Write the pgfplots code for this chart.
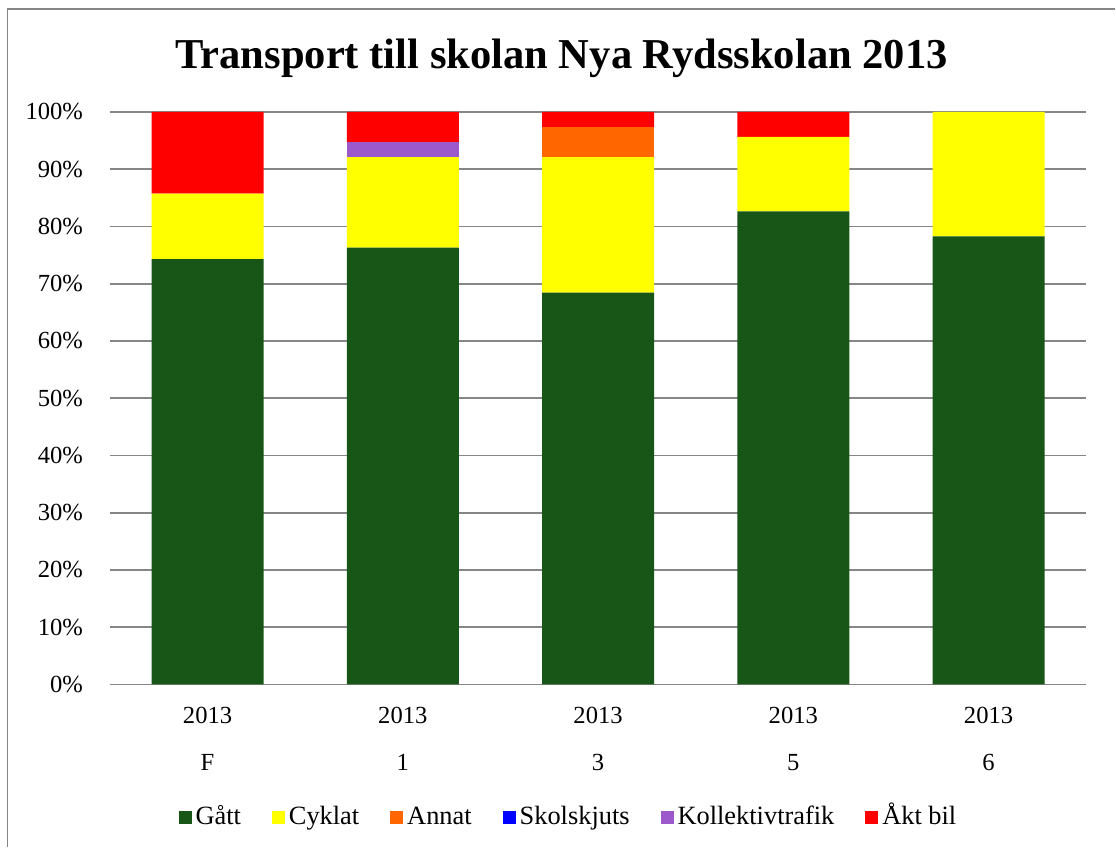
\documentclass[border=0pt]{standalone}
\usepackage{pgfplots}
\pgfplotsset{compat=1.18}
\usepackage{fontspec}
\setmainfont{Liberation Serif}
\definecolor{cGatt}{RGB}{24,86,24}
\definecolor{cCyklat}{RGB}{255,255,0}
\definecolor{cAnnat}{RGB}{255,102,0}
\definecolor{cSkol}{RGB}{0,0,255}
\definecolor{cKoll}{RGB}{155,89,203}
\definecolor{cBil}{RGB}{255,0,0}
\definecolor{cGrid}{RGB}{134,134,134}
\pgfplotsset{sq/.style={draw=none,fill=#1,
  legend image code/.code={\fill[#1] (0pt,-3.25pt) rectangle (6.5pt,3.25pt);}}}
\begin{document}
\begin{tikzpicture}
\begin{axis}[
  scale only axis, width=488.5pt, height=286.5pt,
  ybar stacked, bar width=56pt,
  xmin=-0.5, xmax=4.5, ymin=0, ymax=100,
  clip=false,
  ytick={0,10,...,100},
  yticklabel={\pgfmathprintnumber{\tick}\%},
  /pgf/number format/assume math mode=true,
  yticklabel style={font=\fontsize{12.3}{14}\selectfont, xshift=-10pt},
  ymajorgrids, grid style={draw=cGrid, line width=0.85pt},
  axis lines*=left,
  y axis line style={draw=none},
  x axis line style={draw=cGrid, line width=0.85pt},
  ytick style={draw=none},
  xtick={0,...,4},
  xticklabels={{2013\\F},{2013\\1},{2013\\3},{2013\\5},{2013\\6}},
  xticklabel style={align=center, font=\fontsize{12.3}{23.5}\selectfont, yshift=-8pt},
  xtick style={draw=none},
  extra x ticks={-0.5,0.5,1.5,2.5,3.5,4.5},
  extra x tick labels={},
  extra x tick style={major tick length=47.5pt, tick align=outside,
    tick style={draw=cGrid, line width=0.85pt}, grid=none},
  legend columns=-1,
  legend style={at={(axis description cs:0.4707,-0.2321)}, anchor=center,
    draw=none, font=\fontsize{13.2}{15}\selectfont,
    nodes={text height=9.6pt, text depth=2.8pt},
    /tikz/every even column/.append style={column sep=13.5pt}},
]
\addplot+[sq=cGatt] coordinates {(0,74.29) (1,76.32) (2,68.42) (3,82.61) (4,78.26)};
\addplot+[sq=cCyklat] coordinates {(0,11.43) (1,15.79) (2,23.68) (3,13.04) (4,21.74)};
\addplot+[sq=cAnnat] coordinates {(0,0) (1,0) (2,5.26) (3,0) (4,0)};
\addplot+[sq=cSkol] coordinates {(0,0) (1,0) (2,0) (3,0) (4,0)};
\addplot+[sq=cKoll] coordinates {(0,0) (1,2.63) (2,0) (3,0) (4,0)};
\addplot+[sq=cBil] coordinates {(0,14.29) (1,5.26) (2,2.63) (3,4.35) (4,0)};
\legend{Gått,Cyklat,Annat,Skolskjuts,Kollektivtrafik,Åkt bil}
\coordinate (fBL) at (rel axis cs:-0.10492,-0.28447);
\coordinate (fTL) at (rel axis cs:-0.10492,1.17976);
\coordinate (fTR) at (rel axis cs:1.02968,1.17976);
\coordinate (bbA) at (rel axis cs:-0.11259,-0.28447);
\coordinate (bbB) at (rel axis cs:1.02968,1.19546);
\coordinate (ttl) at (rel axis cs:0.4627,1.0942);
\end{axis}
\node[font=\fontsize{21.3}{26}\selectfont\bfseries] at (ttl) {Transport till skolan Nya Rydsskolan 2013};
\draw[cGrid, line width=0.85pt] (fBL) -- (fTL) -- (fTR);
\useasboundingbox (bbA) rectangle (bbB);
\end{tikzpicture}
\end{document}
